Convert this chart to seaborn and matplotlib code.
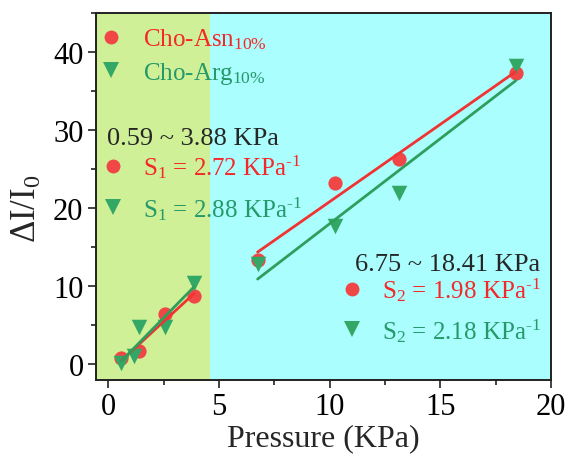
import numpy as np
import pandas as pd
import seaborn as sns
import matplotlib
matplotlib.use("Agg")
import matplotlib.pyplot as plt
from matplotlib.lines import Line2D
from matplotlib.ticker import MultipleLocator

# ---- data ----
asn_low_x = [0.59, 1.40, 2.55, 3.88]
asn_low_y = [0.7, 1.6, 6.4, 8.7]
asn_high_x = [6.75, 10.25, 13.15, 18.41]
asn_high_y = [13.3, 23.2, 26.3, 37.3]

arg_low_x = [0.59, 1.15, 1.40, 2.55, 3.88]
arg_low_y = [0.1, 1.0, 4.7, 4.7, 10.3]
arg_high_x = [6.75, 10.25, 13.15, 18.41]
arg_high_y = [12.8, 17.6, 21.9, 38.2]

series_labels = ["Cho-Asn$_{10\\%}$", "Cho-Arg$_{10\\%}$"]
low_range = "0.59 ~ 3.88 KPa"
high_range = "6.75 ~ 18.41 KPa"
low_slopes = ["S$_1$ = 2.72 KPa$^{\\text{-}1}$", "S$_1$ = 2.88 KPa$^{\\text{-}1}$"]
high_slopes = ["S$_2$ = 1.98 KPa$^{\\text{-}1}$", "S$_2$ = 2.18 KPa$^{\\text{-}1}$"]
region_split = 4.6

sns.set_theme(style="ticks")
plt.rcParams["font.family"] = ["Liberation Serif", "DejaVu Serif"]
plt.rcParams["mathtext.fontset"] = "custom"
plt.rcParams["mathtext.rm"] = "Liberation Serif"
plt.rcParams["mathtext.it"] = "Liberation Serif:italic"
plt.rcParams["mathtext.default"] = "rm"

red_pt = "#F04646"
green_pt = "#33A866"
red_ln = "#F03434"
green_ln = "#2E9E5C"
red_txt = "#F42828"
green_txt = "#25996A"
bg_green = "#CFF096"
bg_cyan = "#AAFEFE"

fig = plt.figure(figsize=(5.7, 4.56), dpi=100)
ax = fig.add_axes([96 / 570, (456 - 381) / 456, (551 - 96) / 570, (381 - 14) / 456])

ax.set_xlim(-0.55, 20)
ax.set_ylim(-2.1, 45)
ax.axvspan(-0.55, region_split, color=bg_green, lw=0, zorder=0)
ax.axvspan(region_split, 20, color=bg_cyan, lw=0, zorder=0)

def seg(x, y, color, lcolor, marker, size):
    df = pd.DataFrame({"x": x, "y": y})
    sns.regplot(data=df, x="x", y="y", ax=ax, ci=None, truncate=True,
                marker=marker,
                scatter_kws=dict(color=color, s=size, linewidths=0, alpha=1, zorder=3),
                line_kws=dict(color=lcolor, lw=2, zorder=4))

seg(asn_low_x, asn_low_y, red_pt, red_ln, "o", 105)
seg(asn_high_x, asn_high_y, red_pt, red_ln, "o", 105)
seg(arg_low_x, arg_low_y, green_pt, green_ln, "v", 125)
seg(arg_high_x, arg_high_y, green_pt, green_ln, "v", 125)

ax.set_xlabel("Pressure (KPa)", fontsize=23, labelpad=1)
ax.set_ylabel("\u0394I/I$_0$", fontsize=25, labelpad=2)
ax.yaxis.set_label_coords(-0.115, 0.47)

ax.xaxis.set_major_locator(MultipleLocator(5))
ax.xaxis.set_minor_locator(MultipleLocator(2.5))
ax.yaxis.set_major_locator(MultipleLocator(10))
ax.yaxis.set_minor_locator(MultipleLocator(5))
ax.tick_params(which="major", direction="out", length=6, width=1.2, labelsize=22,
               color="#222222", labelcolor="black", pad=3)
ax.tick_params(which="minor", direction="out", length=3.5, width=1.2, color="#222222")
for s in ax.spines.values():
    s.set_linewidth(1.4)
    s.set_color("#222222")
    s.set_visible(True)

def handles():
    return [Line2D([], [], ls="", marker="o", color=red_pt, markersize=10, markeredgewidth=0),
            Line2D([], [], ls="", marker="v", color=green_pt, markersize=11, markeredgewidth=0)]

leg1 = ax.legend(handles(), series_labels, loc="upper left",
                 bbox_to_anchor=(-0.034, 1.01), frameon=False, fontsize=18,
                 labelcolor=[red_txt, green_txt], handletextpad=0.78,
                 handlelength=1.0, labelspacing=0.35, borderaxespad=0.3)
ax.add_artist(leg1)

leg2 = ax.legend(handles(), low_slopes, loc="upper left", title=low_range,
                 title_fontsize=19, bbox_to_anchor=(-0.015, 0.736), frameon=False,
                 fontsize=18, labelcolor=[red_txt, green_txt], handletextpad=0.94,
                 handlelength=0.5, labelspacing=0.55, alignment="left",
                 borderaxespad=0.3)
leg2._legend_box.sep = 2
ax.add_artist(leg2)

leg3 = ax.legend(handles(), high_slopes, loc="upper left", title=high_range,
                 title_fontsize=19, bbox_to_anchor=(0.51, 0.393), frameon=False,
                 fontsize=18, labelcolor=[red_txt, green_txt], handletextpad=0.94,
                 handlelength=0.5, labelspacing=0.5, alignment="right",
                 borderaxespad=0.3)
leg3._legend_box.sep = 0

fig.savefig("out.png", dpi=100)
